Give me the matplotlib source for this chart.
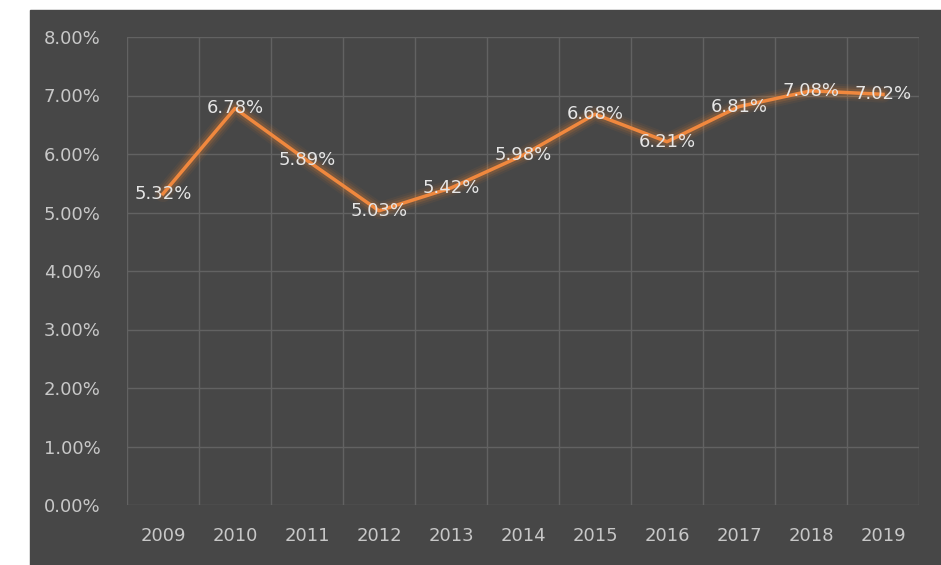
import matplotlib.pyplot as plt
from matplotlib.patches import Rectangle
from matplotlib.ticker import FuncFormatter, MultipleLocator
import numpy as np

years = ['2009', '2010', '2011', '2012', '2013', '2014', '2015', '2016', '2017', '2018', '2019']
rates = [5.32, 6.78, 5.89, 5.03, 5.42, 5.98, 6.68, 6.21, 6.81, 7.08, 7.02]

bg = '#474747'
fig = plt.figure(figsize=(9.41, 5.65), dpi=100)
fig.patch.set_facecolor('white')
# dark panel, leaving the white strip at left and top
panel = Rectangle((30/941, 0), 1 - 30/941, 1 - 10/565,
                  transform=fig.transFigure, color=bg, zorder=-5)
fig.add_artist(panel)

ax = fig.add_axes([127/941, 1 - 505/565, (919 - 127)/941, (505 - 37)/565])
ax.set_facecolor(bg)
x = np.arange(len(years))

# glow behind the line
for w, a in [(12, 0.06), (9, 0.09), (6, 0.15)]:
    ax.plot(x, rates, color='#ff8a2a', lw=w, alpha=a, solid_capstyle='round', zorder=2)
ax.plot(x, rates, color='#f0883e', lw=2.5, solid_joinstyle='round', zorder=3)

for xi, v in zip(x, rates):
    ax.text(xi, v, f'{v:.2f}%', ha='center', va='center', color='#e6e6e6',
            fontsize=13, zorder=4)

ax.set_xlim(-0.5, len(years) - 0.5)
ax.set_ylim(0, 8)
ax.set_xticks(x)
ax.set_xticklabels(years)
ax.set_xticks(np.arange(-0.5, len(years)), minor=True)
ax.yaxis.set_major_locator(MultipleLocator(1))
ax.yaxis.set_major_formatter(FuncFormatter(lambda v, p: f'{v:.2f}%'))

ax.grid(axis='y', which='major', color='#626262', lw=1)
ax.grid(axis='x', which='minor', color='#626262', lw=1)
ax.set_axisbelow(True)
for s in ax.spines.values():
    s.set_visible(False)
ax.tick_params(which='both', length=0)
ax.tick_params(axis='x', colors='#c8c8c8', labelsize=13, pad=16)
ax.tick_params(axis='y', colors='#c8c8c8', labelsize=13, pad=60)
for lab in ax.get_yticklabels():
    lab.set_horizontalalignment('left')

fig.savefig('out.png', dpi=100, facecolor=fig.get_facecolor())
